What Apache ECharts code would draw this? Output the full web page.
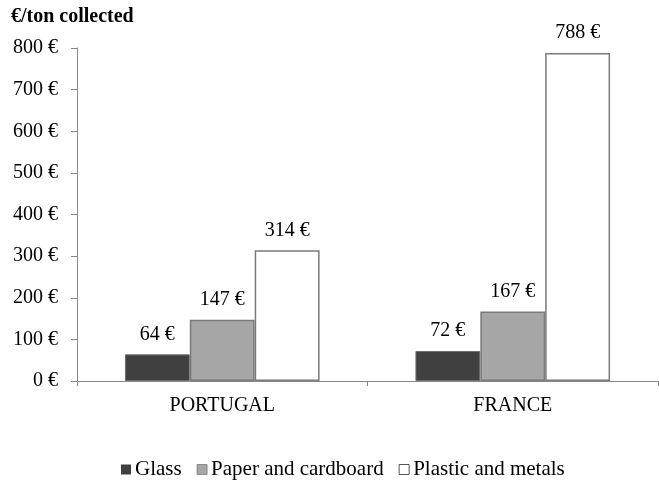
<!DOCTYPE html>
<html>
<head>
<meta charset="utf-8">
<script src="https://cdn.jsdelivr.net/npm/echarts@6/dist/echarts.min.js"></script>
<style>
  html, body { margin: 0; padding: 0; background: #fff; }
  #chart { width: 659px; height: 482px; }
</style>
</head>
<body>
<div id="chart"></div>
<script>
const categories = ['PORTUGAL', 'FRANCE']
const glass = [64, 72]
const paper = [147, 167]
const plastic = [314, 788]

const serif = '"Liberation Serif", "DejaVu Serif", serif'

const label = {
  show: true,
  position: 'top',
  distance: 10,
  formatter: p => p.value + ' €',
  color: '#000',
  fontFamily: serif,
  fontSize: 20
}

const chart = echarts.init(document.getElementById('chart'))
chart.setOption({
  backgroundColor: '#fff',
  animation: false,
  textStyle: { fontFamily: serif },
  title: {
    text: '€/ton collected',
    left: 6,
    top: 2,
    textStyle: { fontFamily: serif, fontSize: 20, fontWeight: 'bold', color: '#000' }
  },
  legend: {
    top: 454,
    left: 116,
    itemWidth: 10,
    itemHeight: 10,
    itemGap: 15,
    icon: 'rect',
    textStyle: { fontFamily: serif, fontSize: 21, color: '#000', padding: [0, 0, 0, -1] },
    data: [
      { name: 'Glass', itemStyle: { borderWidth: 0 } },
      { name: 'Paper and cardboard', itemStyle: { borderWidth: 0.8 } },
      { name: 'Plastic and metals', itemStyle: { borderWidth: 1, borderColor: '#555' } }
    ]
  },
  grid: { left: 77, right: 1, top: 48, bottom: 101, containLabel: false },
  xAxis: {
    type: 'category',
    data: categories,
    axisLine: { lineStyle: { color: '#888' } },
    axisTick: { show: true, length: 5, lineStyle: { color: '#888' } },
    axisLabel: { color: '#000', fontFamily: serif, fontSize: 20, margin: 15 }
  },
  yAxis: {
    type: 'value',
    min: 0,
    max: 800,
    interval: 100,
    axisLine: { show: true, lineStyle: { color: '#888' } },
    axisTick: { show: true, length: 6, lineStyle: { color: '#888' } },
    splitLine: { show: false },
    axisLabel: { color: '#000', fontFamily: serif, fontSize: 20, margin: 19, formatter: v => v + ' €' }
  },
  series: [
    {
      name: 'Glass', type: 'bar', data: glass, barGap: '0%', barCategoryGap: '33%',
      itemStyle: { color: '#404040', borderColor: '#6e6e6e', borderWidth: 1 },
      label
    },
    {
      name: 'Paper and cardboard', type: 'bar', data: paper,
      itemStyle: { color: '#a6a6a6', borderColor: '#7a7a7a', borderWidth: 1.5 },
      label
    },
    {
      name: 'Plastic and metals', type: 'bar', data: plastic,
      itemStyle: { color: '#ffffff', borderColor: '#7a7a7a', borderWidth: 1.5 },
      label
    }
  ]
})
</script>
</body>
</html>
